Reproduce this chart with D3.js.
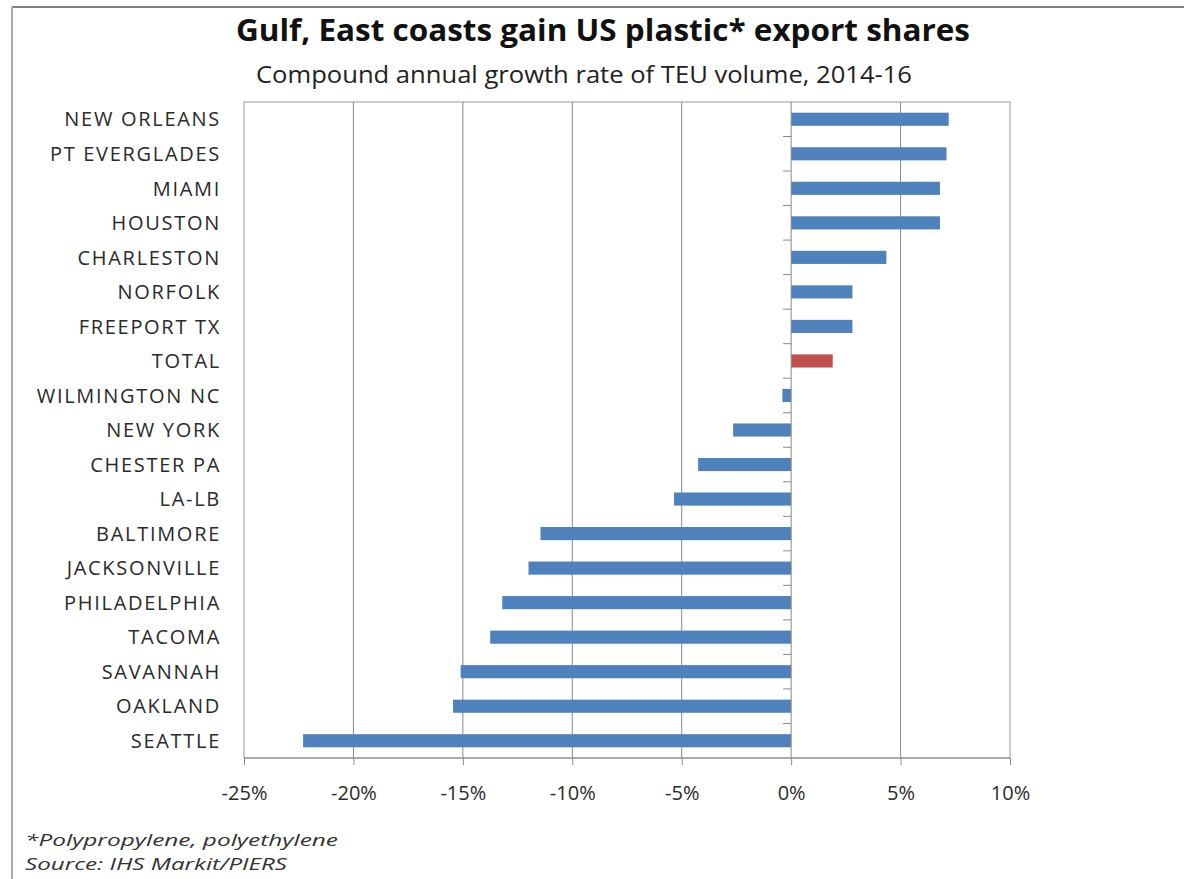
<!DOCTYPE html>
<html>
<head>
<meta charset="utf-8">
<script src="https://cdn.jsdelivr.net/npm/d3@7/dist/d3.min.js"></script>
<style>
  body { margin: 0; background: #fff; }
  svg { display: block; font-family: 'Open Sans', sans-serif; }
  .cat { font-size: 20px; fill: #2a2a2a; letter-spacing: 1.7px; }
  .axis text { font-size: 20px; fill: #2a2a2a; font-family: 'Open Sans', sans-serif; }
  .axis path, .axis line { stroke: #888; }
  .grid { stroke: #888; stroke-width: 1; }
  .note { font-size: 17px; font-style: italic; fill: #333; }
</style>
</head>
<body>
<svg id="chart" width="1184" height="879"></svg>
<script>
// data (CAGR of TEU volume 2014-16, %)
const categories = ["NEW ORLEANS", "PT EVERGLADES", "MIAMI", "HOUSTON", "CHARLESTON",
  "NORFOLK", "FREEPORT TX", "TOTAL", "WILMINGTON NC", "NEW YORK", "CHESTER PA",
  "LA-LB", "BALTIMORE", "JACKSONVILLE", "PHILADELPHIA", "TACOMA", "SAVANNAH",
  "OAKLAND", "SEATTLE"];
const values = [7.2, 7.1, 6.8, 6.8, 4.35, 2.8, 2.8, 1.9, -0.4, -2.65, -4.25,
  -5.35, -11.45, -12.0, -13.2, -13.75, -15.1, -15.45, -22.3];
const highlight = "TOTAL";
const tickValues = [-25, -20, -15, -10, -5, 0, 5, 10];

const blue = "#4F81BD", red = "#C0504D";

const svg = d3.select("#chart");

// outer frame
svg.append("line").attr("x1", 12).attr("x2", 1184).attr("y1", 7).attr("y2", 7)
  .attr("stroke", "#555").attr("stroke-width", 1.5);
svg.append("line").attr("x1", 12).attr("x2", 12).attr("y1", 7).attr("y2", 879)
  .attr("stroke", "#aaa").attr("stroke-width", 2);

// titles
svg.append("text").attr("x", 236).attr("y", 41)
  .attr("textLength", 734).attr("lengthAdjust", "spacingAndGlyphs")
  .style("font-size", "31px").style("font-weight", "bold").style("fill", "#111")
  .text("Gulf, East coasts gain US plastic* export shares");
svg.append("text").attr("x", 256).attr("y", 83)
  .attr("textLength", 656).attr("lengthAdjust", "spacingAndGlyphs")
  .style("font-size", "23px").style("fill", "#222")
  .text("Compound annual growth rate of TEU volume, 2014-16");

const x = d3.scaleLinear().domain([-25, 10]).range([244, 1010]);
const y = d3.scaleBand().domain(categories).range([102, 758])
  .paddingInner(0.62).paddingOuter(0.31);

// plot border
svg.append("rect").attr("x", x(-25)).attr("y", 102)
  .attr("width", x(10) - x(-25)).attr("height", 758 - 102)
  .attr("fill", "none").attr("stroke", "#999");

// gridlines
svg.append("g").selectAll("line")
  .data(tickValues.filter(t => t !== 0 && t !== -25 && t !== 10))
  .enter().append("line")
  .attr("class", "grid")
  .attr("x1", d => x(d)).attr("x2", d => x(d))
  .attr("y1", 102).attr("y2", 758);

// bars
svg.append("g").selectAll("rect")
  .data(categories)
  .enter().append("rect")
  .attr("x", (d, i) => x(Math.min(0, values[i])))
  .attr("width", (d, i) => Math.abs(x(values[i]) - x(0)))
  .attr("y", d => y(d))
  .attr("height", y.bandwidth())
  .attr("fill", d => d === highlight ? red : blue);

// zero axis with category tick marks
svg.append("line").attr("x1", x(0)).attr("x2", x(0)).attr("y1", 102).attr("y2", 758)
  .attr("stroke", "#888");
const bounds = categories.slice(1).map(c => y(c) - y.step() * y.paddingInner() / 2);
svg.append("g").selectAll("line")
  .data(bounds)
  .enter().append("line")
  .attr("x1", x(0) - 8).attr("x2", x(0))
  .attr("y1", d => d).attr("y2", d => d)
  .attr("stroke", "#888");

// category labels
svg.append("g").selectAll("text")
  .data(categories)
  .enter().append("text")
  .attr("class", "cat")
  .attr("x", 221)
  .attr("y", d => y(d) + y.bandwidth() / 2)
  .attr("dy", "0.36em")
  .attr("text-anchor", "end")
  .text(d => d);

// bottom axis
const xAxis = d3.axisBottom(x).tickValues(tickValues).tickSize(7).tickPadding(21)
  .tickFormat(d => d + "%");
const ax = svg.append("g").attr("class", "axis")
  .attr("transform", "translate(0,758)").call(xAxis);
ax.select(".domain").attr("d", `M${x(-25)},0H${x(10)}`);

// footnotes
svg.append("text").attr("class", "note").attr("x", 25).attr("y", 846)
  .attr("textLength", 313).attr("lengthAdjust", "spacingAndGlyphs")
  .text("*Polypropylene, polyethylene");
svg.append("text").attr("class", "note").attr("x", 25).attr("y", 870)
  .attr("textLength", 262).attr("lengthAdjust", "spacingAndGlyphs")
  .text("Source:  IHS Markit/PIERS");
</script>
</body>
</html>
